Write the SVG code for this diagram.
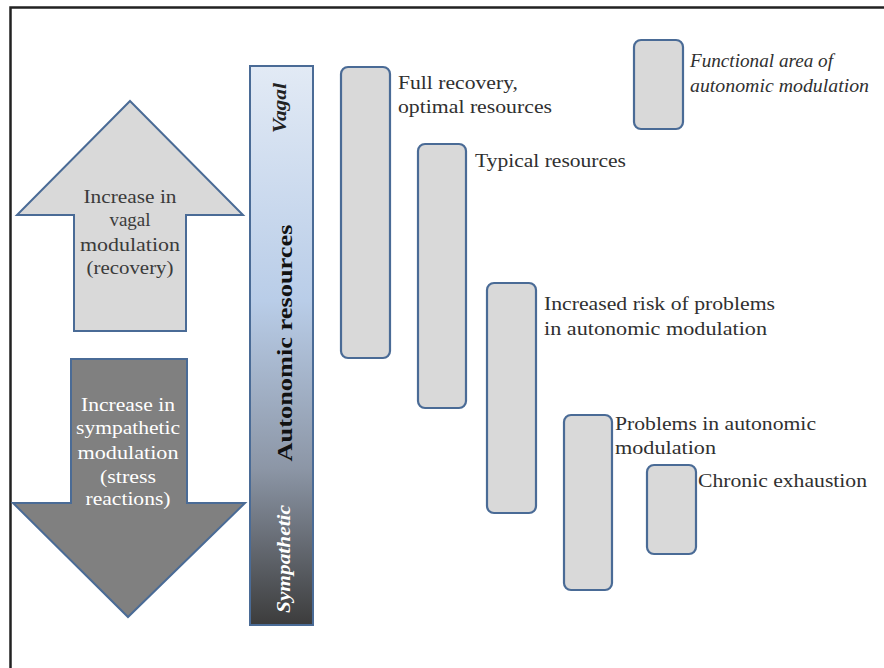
<svg xmlns="http://www.w3.org/2000/svg" width="884" height="668" viewBox="0 0 884 668">
<defs>
<linearGradient id="barGrad" x1="0" y1="0" x2="0" y2="1">
<stop offset="0" stop-color="#e2eaf5"/>
<stop offset="0.42" stop-color="#b9cde8"/>
<stop offset="0.72" stop-color="#8c96a6"/>
<stop offset="1" stop-color="#3c3c3c"/>
</linearGradient>
<style>
.box{fill:#d9d9d9;stroke:#4a6b96;stroke-width:2.2}
.lbl{font-family:"Liberation Serif","Times New Roman",serif;font-size:19px;fill:#303030}
.arw{font-family:"Liberation Serif","Times New Roman",serif;font-size:19px;text-anchor:middle}
.vert{font-family:"Liberation Serif","Times New Roman",serif;font-weight:bold;text-anchor:middle;dominant-baseline:central}
</style>
</defs>
<rect width="884" height="668" fill="#ffffff"/>
<path d="M10.5 700 V7.5 H900" fill="none" stroke="#222222" stroke-width="2.5"/>

<g id="connectors"/>

<g id="arrow-up">
<polygon points="130,101 243,215 186,215 186,331 74,331 74,215 17,215" fill="#d9d9d9" stroke="#4a6b96" stroke-width="2"/>
<text class="arw" fill="#3b3b3b"><tspan x="130" y="203" textLength="93" lengthAdjust="spacingAndGlyphs">Increase in</tspan><tspan x="130" y="226">vagal</tspan><tspan x="130" y="251" textLength="100" lengthAdjust="spacingAndGlyphs">modulation</tspan><tspan x="130" y="274" textLength="87" lengthAdjust="spacingAndGlyphs">(recovery)</tspan></text>
</g>

<g id="arrow-down">
<polygon points="71,359 187,359 187,503 245,503 128,617 13,503 71,503" fill="#808080" stroke="#4a6b96" stroke-width="2"/>
<text class="arw" fill="#ffffff"><tspan x="128" y="411" textLength="94" lengthAdjust="spacingAndGlyphs">Increase in</tspan><tspan x="128" y="434" textLength="104" lengthAdjust="spacingAndGlyphs">sympathetic</tspan><tspan x="128" y="459" textLength="101" lengthAdjust="spacingAndGlyphs">modulation</tspan><tspan x="128" y="483" textLength="56" lengthAdjust="spacingAndGlyphs">(stress</tspan><tspan x="128" y="505" textLength="85" lengthAdjust="spacingAndGlyphs">reactions)</tspan></text>
</g>

<g id="resource-bar">
<rect x="250" y="66" width="63" height="559" fill="url(#barGrad)" stroke="#4a6b96" stroke-width="2"/>
<text class="vert" font-style="italic" font-size="19" fill="#222222" transform="translate(279,108) rotate(-90)" x="0" y="0" textLength="50" lengthAdjust="spacingAndGlyphs">Vagal</text>
<text class="vert" font-size="22" fill="#111111" transform="translate(284,343) rotate(-90)" x="0" y="0" textLength="237" lengthAdjust="spacingAndGlyphs">Autonomic resources</text>
<text class="vert" font-style="italic" font-size="19" fill="#ffffff" transform="translate(283,559) rotate(-90)" x="0" y="0" textLength="108" lengthAdjust="spacingAndGlyphs">Sympathetic</text>
</g>

<g id="full-recovery">
<rect class="box" x="341" y="67" width="49" height="291" rx="7"/>
<text class="lbl"><tspan x="398" y="89" textLength="120" lengthAdjust="spacingAndGlyphs">Full recovery,</tspan><tspan x="398" y="113" textLength="154" lengthAdjust="spacingAndGlyphs">optimal resources</tspan></text>
</g>

<g id="typical-resources">
<rect class="box" x="418" y="144" width="48" height="264" rx="7"/>
<text class="lbl" x="475" y="167" textLength="151" lengthAdjust="spacingAndGlyphs">Typical resources</text>
</g>

<g id="increased-risk">
<rect class="box" x="487" y="283" width="49" height="230" rx="7"/>
<text class="lbl"><tspan x="544" y="310" textLength="231" lengthAdjust="spacingAndGlyphs">Increased risk of problems</tspan><tspan x="544" y="335" textLength="223" lengthAdjust="spacingAndGlyphs">in autonomic modulation</tspan></text>
</g>

<g id="problems">
<rect class="box" x="564" y="415" width="48" height="175" rx="7"/>
<text class="lbl"><tspan x="615" y="430" textLength="201" lengthAdjust="spacingAndGlyphs">Problems in autonomic</tspan><tspan x="615" y="454" textLength="101" lengthAdjust="spacingAndGlyphs">modulation</tspan></text>
</g>

<g id="chronic-exhaustion">
<rect class="box" x="647" y="465" width="49" height="89" rx="7"/>
<text class="lbl" x="698" y="487" textLength="169" lengthAdjust="spacingAndGlyphs">Chronic exhaustion</text>
</g>

<g id="legend">
<rect class="box" x="634" y="40" width="49" height="89" rx="7"/>
<text class="lbl" font-style="italic"><tspan x="690" y="67" textLength="143" lengthAdjust="spacingAndGlyphs">Functional area of</tspan><tspan x="690" y="92" textLength="179" lengthAdjust="spacingAndGlyphs">autonomic modulation</tspan></text>
</g>
</svg>
